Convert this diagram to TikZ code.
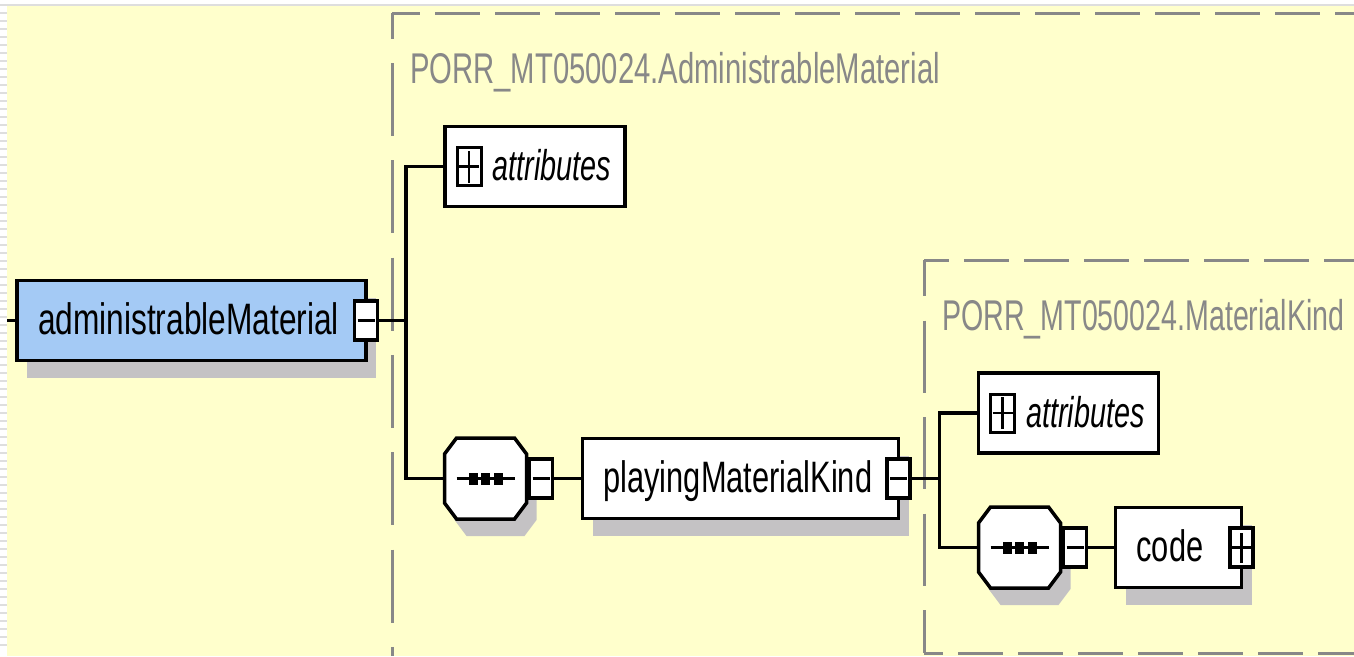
\documentclass[tikz,border=0pt]{standalone}
\usepackage{fontspec}
\setmainfont{Liberation Sans}
\newfontfamily\boxfont[FakeStretch=0.7]{Liberation Sans}
\newfontfamily\rootfont[FakeStretch=0.72]{Liberation Sans}
\newfontfamily\titlefont[FakeStretch=0.68]{Liberation Sans}
\newfontfamily\kindtitlefont[FakeStretch=0.665]{Liberation Sans}
\newfontfamily\attrfont[FakeStretch=0.67]{Liberation Sans}
\usepackage{tikz}
\usetikzlibrary{positioning,shadows}
\definecolor{bgyellow}{RGB}{255,255,204}
\definecolor{elemblue}{RGB}{164,202,245}
\definecolor{shadowgray}{RGB}{196,194,196}
\definecolor{framegray}{RGB}{136,136,136}
\definecolor{stripgray}{RGB}{222,222,222}
% octagon round a named node, shifted by (#2,#3)
\newcommand\octapath[3]{([shift={(#2+12pt,#3)}]#1.north west) -- ([shift={(#2-12pt,#3)}]#1.north east) -- ([shift={(#2,#3-16pt)}]#1.north east) -- ([shift={(#2,#3+16pt)}]#1.south east) -- ([shift={(#2-12pt,#3)}]#1.south east) -- ([shift={(#2+12pt,#3)}]#1.south west) -- ([shift={(#2,#3+16pt)}]#1.south west) -- ([shift={(#2,#3-16pt)}]#1.north west) -- cycle}
% sequence compositor drawn on a named node
\newcommand\seqsymbol[1]{%
  \fill[shadowgray] \octapath{#1}{10pt}{-17pt};
  \filldraw[fill=white,draw=black,line width=3.5pt] \octapath{#1}{0pt}{0pt};
  \draw[line width=3.5pt] ([xshift=12pt]#1.west) -- ([xshift=-12pt]#1.east);
  \foreach \dx in {-12.5,0,12.5}
    \fill ([shift={(\dx*1pt-4.5pt,-6pt)}]#1.center) rectangle ++(9pt,12pt);
}

\begin{document}
\begin{tikzpicture}[x=1pt,y=-1pt,
    conn/.style={line width=3.5pt},
    frame/.style={draw=framegray,line width=3pt},
    elem/.style={draw,line width=3.5pt,fill=white,minimum height=80pt,inner xsep=21pt,inner ysep=0pt,outer sep=0pt,
      align=left,text height=36pt,text depth=8pt,font=\boxfont\fontsize{44}{44}\selectfont,
      drop shadow={shadow xshift=10pt,shadow yshift=-17pt,fill=shadowgray,opacity=1}},
    attrbox/.style={draw,line width=3.5pt,fill=white,minimum width=180pt,minimum height=80pt,inner sep=0pt,outer sep=0pt},
    attrtext/.style={inner sep=0pt,outer sep=0pt,text height=36pt,text depth=8pt,font=\attrfont\itshape\fontsize{43}{43}\selectfont},
    ttl/.style={anchor=base west,inner sep=0pt,text=framegray,font=\titlefont\fontsize{43}{43}\selectfont},
    seqbox/.style={minimum width=82pt,minimum height=81pt,inner sep=0pt,outer sep=0pt},
    toggle/.style={draw,line width=3.5pt,fill=white,minimum width=23pt,minimum height=39pt,inner sep=0pt,outer sep=0pt},
    togminus/.style={toggle,path picture={\draw[line width=3.5pt] ([xshift=-8.5pt]path picture bounding box.center) -- ([xshift=8.5pt]path picture bounding box.center);}},
    togplus/.style={toggle,path picture={\draw[line width=3pt] ([xshift=-9.5pt]path picture bounding box.center) -- ([xshift=9.5pt]path picture bounding box.center) ([yshift=-15pt]path picture bounding box.center) -- ([yshift=15pt]path picture bounding box.center);}},
    attrplus/.style={toggle,line width=3pt,minimum width=24pt,minimum height=38pt,path picture={\draw[line width=2.5pt] ([xshift=-10pt]path picture bounding box.center) -- ([xshift=10pt]path picture bounding box.center) ([yshift=-16pt]path picture bounding box.center) -- ([yshift=16pt]path picture bounding box.center);}}]
  \useasboundingbox (0,0) rectangle (1354,656);
  % background
  \fill[white] (0,0) rectangle (1354,656);
  \fill[bgyellow] (7,6) rectangle (1354,656);
  \fill[stripgray] (0,4) rectangle (1354,6);
  \foreach \yy in {12,20,...,650}
    \fill[stripgray] (0,\yy) rectangle (7,\yy+2);
  % dashed frames
  \draw[frame,dash pattern=on 45pt off 15pt,dash phase=17pt] (392,13) -- (1354,13);
  \draw[frame,dash pattern=on 73pt off 24.3pt,dash phase=47.3pt] (392,13) -- (392,656);
  \draw[frame,dash pattern=on 45pt off 15pt,dash phase=20pt] (924,260) -- (1354,260);
  \draw[frame,dash pattern=on 72pt off 24.5pt,dash phase=36pt] (924,260) -- (924,653);
  \draw[frame,dash pattern=on 45pt off 15pt,dash phase=26pt] (924,653) -- (1354,653);
  \node[ttl] (adminTitle) at (410,83) {PORR\_MT050024.AdministrableMaterial};
  \node[ttl,font=\kindtitlefont\fontsize{43}{43}\selectfont] (kindTitle) at (942,330) {PORR\_MT050024.MaterialKind};
  % bus points
  \coordinate (adminIn) at (7,320.5);
  \coordinate (adminBus) at (406,320.5);
  \coordinate (playBus) at (939.5,478.5);
  % root element
  \node[elem,fill=elemblue,text width=307pt,font=\rootfont\fontsize{44}{44}\selectfont] (adminMat) at (191.5,320.5) {administrableMaterial};
  \node[togminus] (adminTog) at (adminMat.east) {};
  % attributes
  \node[attrbox] (adminAttr) at (535,166.5) {};
  \node[attrplus,right=12pt of adminAttr.west] (adminAttrPlus) {};
  \node[attrtext,right=11.5pt of adminAttrPlus] (adminAttrTxt) {attributes};
  % sequence and child
  \node[seqbox] (adminSeq) at (485.5,478.5) {};
  \seqsymbol{adminSeq}
  \node[togminus,right=3pt of adminSeq] (adminSeqTog) {};
  \node[elem,text width=274pt] (playKind) at (740.5,478.5) {playingMaterialKind};
  \node[togminus] (playTog) at (playKind.east) {};
  % MaterialKind content
  \node[attrbox] (kindAttr) at (1068.5,413) {};
  \node[attrplus,right=12pt of kindAttr.west] (kindAttrPlus) {};
  \node[attrtext,right=11.5pt of kindAttrPlus] (kindAttrTxt) {attributes};
  \node[seqbox] (kindSeq) at (1019.5,547.5) {};
  \seqsymbol{kindSeq}
  \node[togminus,right=3pt of kindSeq] (kindSeqTog) {};
  \node[elem,text width=84pt] (code) at (1178.5,547.5) {code};
  \node[togplus] (codeTog) at (code.east) {};
  % connectors
  \draw[conn] (adminIn) -- (adminMat.west);
  \draw[conn] (adminTog.east) -- (adminBus) |- (adminAttr.west);
  \draw[conn] (adminBus) |- (adminSeq.west);
  \draw[conn] (adminSeqTog.east) -- (playKind.west);
  \draw[conn] (playTog.east) -- (playBus) |- (kindAttr.west);
  \draw[conn] (playBus) |- (kindSeq.west);
  \draw[conn] (kindSeqTog.east) -- (code.west);
\end{tikzpicture}
\end{document}
